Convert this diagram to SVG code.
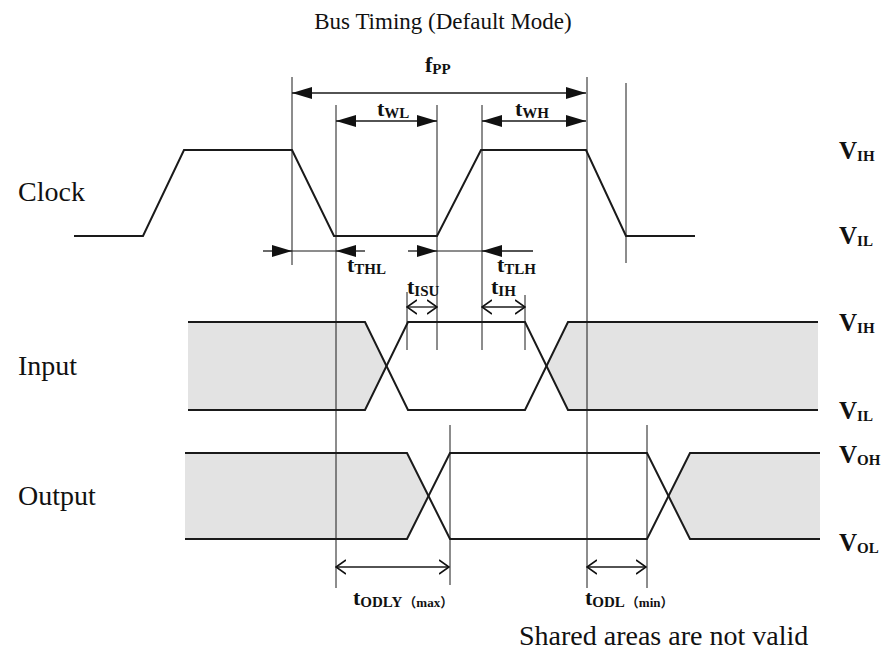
<svg xmlns="http://www.w3.org/2000/svg" width="886" height="659" viewBox="0 0 886 659">
<style>
.wave{fill:none;stroke:#1a1a1a;stroke-width:2;stroke-linejoin:miter}
.guide{fill:none;stroke:#1a1a1a;stroke-width:1}
.dim{fill:none;stroke:#1a1a1a;stroke-width:1.3}
.grey{fill:#e3e3e3;stroke:none}
.lbl{font-family:"Liberation Serif","Times New Roman",serif;font-size:28px;fill:#111}
.title{font-family:"Liberation Serif","Times New Roman",serif;font-size:23px;fill:#111}
.sym{font-family:"Liberation Serif","Times New Roman",serif;font-weight:bold;font-size:22px;fill:#111}
.v{font-family:"Liberation Serif","Times New Roman",serif;font-weight:bold;font-size:25px;fill:#111}
.sub{font-size:15px}
.par{font-family:"Liberation Serif","Noto Sans CJK SC",serif;font-size:13px}
</style>
<defs>
<marker id="fa" viewBox="0 0 20 12" refX="20" refY="6" markerWidth="20" markerHeight="12" markerUnits="userSpaceOnUse" orient="auto-start-reverse"><path d="M0,0 L20,6 L0,12 z" fill="#111"/></marker>
<marker id="oa" viewBox="0 0 11 16" refX="10" refY="8" markerWidth="11" markerHeight="16" markerUnits="userSpaceOnUse" orient="auto-start-reverse"><path d="M0,1 L10,8 L0,15" fill="none" stroke="#111" stroke-width="1.6"/></marker>
</defs>
<rect width="886" height="659" fill="#fff"/>
<text class="title" x="443" y="29" text-anchor="middle">Bus Timing (Default Mode)</text>

<g id="clock">
<text class="lbl" x="18" y="201">Clock</text>
<polyline class="wave" points="74,236 143,236 184,150 292,150 334,236 437,236 481,150 586,150 626,236 695,236"/>
</g>

<g id="input">
<text class="lbl" x="18" y="375">Input</text>
<polygon class="grey" points="188,322 365,322 386.5,366 365,410 188,410"/>
<polygon class="grey" points="546.5,366 568,322 818,322 818,410 568,410"/>
<polyline class="wave" points="188,322 365,322 408,410 525,410 568,322 818,322"/>
<polyline class="wave" points="188,410 365,410 408,322 525,322 568,410 818,410"/>
</g>

<g id="output">
<text class="lbl" x="18" y="505">Output</text>
<polygon class="grey" points="185,453 407,453 428.5,496 407,539 185,539"/>
<polygon class="grey" points="668.5,496 690,453 820,453 820,539 690,539"/>
<polyline class="wave" points="185,453 407,453 450,539 647,539 690,453 820,453"/>
<polyline class="wave" points="185,539 407,539 450,453 647,453 690,539 820,539"/>
</g>

<g id="levels">
<text class="v" x="839" y="159">V<tspan class="sub" dy="2">IH</tspan></text>
<text class="v" x="839" y="244">V<tspan class="sub" dy="2">IL</tspan></text>
<text class="v" x="839" y="331">V<tspan class="sub" dy="2">IH</tspan></text>
<text class="v" x="839" y="419">V<tspan class="sub" dy="2">IL</tspan></text>
<text class="v" x="839" y="463">V<tspan class="sub" dy="2">OH</tspan></text>
<text class="v" x="839" y="551">V<tspan class="sub" dy="2">OL</tspan></text>
</g>

<g id="connectors">
<line class="guide" x1="292" y1="77" x2="292" y2="265"/>
<line class="guide" x1="336" y1="105" x2="336" y2="588"/>
<line class="guide" x1="437" y1="105" x2="437" y2="350"/>
<line class="guide" x1="482" y1="105" x2="482" y2="350"/>
<line class="guide" x1="587" y1="77" x2="587" y2="588"/>
<line class="guide" x1="626" y1="83" x2="626" y2="263"/>
<line class="guide" x1="407" y1="292" x2="407" y2="350"/>
<line class="guide" x1="525" y1="295" x2="525" y2="350"/>
<line class="guide" x1="450" y1="425" x2="450" y2="585"/>
<line class="guide" x1="647" y1="425" x2="647" y2="588"/>

<line class="dim" x1="292" y1="93" x2="586" y2="93" marker-start="url(#fa)" marker-end="url(#fa)"/>
<line class="dim" x1="336" y1="121" x2="437" y2="121" marker-start="url(#fa)" marker-end="url(#fa)"/>
<line class="dim" x1="482" y1="121" x2="586" y2="121" marker-start="url(#fa)" marker-end="url(#fa)"/>

<line class="dim" x1="263" y1="251" x2="292" y2="251" marker-end="url(#fa)"/>
<line class="guide" x1="292" y1="251" x2="336" y2="251"/>
<line class="dim" x1="365" y1="251" x2="336" y2="251" marker-end="url(#fa)"/>

<line class="dim" x1="408" y1="251" x2="437" y2="251" marker-end="url(#fa)"/>
<line class="guide" x1="437" y1="251" x2="482" y2="251"/>
<line class="dim" x1="533" y1="251" x2="482" y2="251" marker-end="url(#fa)"/>

<line class="dim" x1="407" y1="307" x2="437" y2="307" marker-start="url(#oa)" marker-end="url(#oa)"/>
<line class="dim" x1="482" y1="307" x2="525" y2="307" marker-start="url(#oa)" marker-end="url(#oa)"/>
<line class="dim" x1="336" y1="567" x2="449" y2="567" marker-start="url(#oa)" marker-end="url(#oa)"/>
<line class="dim" x1="587" y1="567" x2="646" y2="567" marker-start="url(#oa)" marker-end="url(#oa)"/>
</g>

<g id="timing-labels">
<text class="sym" x="425" y="72">f<tspan class="sub" dy="2">PP</tspan></text>
<text class="sym" x="377" y="116">t<tspan class="sub" dy="2">WL</tspan></text>
<text class="sym" x="515" y="116">t<tspan class="sub" dy="2">WH</tspan></text>
<text class="sym" x="347" y="272">t<tspan class="sub" dy="2">THL</tspan></text>
<text class="sym" x="497" y="272">t<tspan class="sub" dy="2">TLH</tspan></text>
<text class="sym" x="407" y="294">t<tspan class="sub" dy="2">ISU</tspan></text>
<text class="sym" x="491" y="294">t<tspan class="sub" dy="2">IH</tspan></text>
<text class="sym" x="353" y="605">t<tspan class="sub" dy="2">ODLY</tspan><tspan class="par" dx="1">（max）</tspan></text>
<text class="sym" x="585" y="605">t<tspan class="sub" dy="2">ODL</tspan><tspan class="par" dx="1">（min）</tspan></text>
</g>

<text class="lbl" x="519" y="645">Shared areas are not valid</text>
</svg>
